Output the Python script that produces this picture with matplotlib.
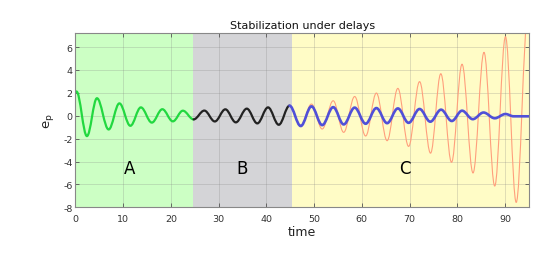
import matplotlib
matplotlib.use("Agg")
import matplotlib.pyplot as plt
from matplotlib.path import Path
from matplotlib.patches import PathPatch

# ---- data (extrema of each trace) ----
green_t = [0.0, 0.2, 2.4, 4.5, 6.95, 9.2, 11.5, 13.7, 16.0, 18.2, 20.4, 22.5, 24.75]
green_y = [2.05, 2.12, -1.78, 1.53, -1.2, 1.08, -0.88, 0.73, -0.6, 0.57, -0.49, 0.44, -0.32]

black_t = [24.75, 27.0, 29.2, 31.4, 33.6, 35.9, 38.1, 40.35, 42.6, 44.85]
black_y = [-0.32, 0.45, -0.5, 0.56, -0.58, 0.62, -0.67, 0.73, -0.79, 0.88]

blue_t = [44.85, 47.2, 49.45, 51.7, 54.0, 56.2, 58.5, 60.8, 63.05, 65.3, 67.55,
          69.8, 72.1, 74.35, 76.6, 78.85, 81.0, 83.25, 85.5, 87.85, 90.1, 91.8, 95.0]
blue_y = [0.88, -0.9, 0.82, -0.82, 0.75, -0.76, 0.71, -0.7, 0.67, -0.65, 0.64,
          -0.62, 0.59, -0.52, 0.53, -0.46, 0.44, -0.3, 0.28, -0.22, 0.15, -0.05, -0.05]

orange_t = [44.85, 47.2, 49.45, 51.7, 54.0, 56.2, 58.5, 60.8, 63.05, 65.3, 67.55,
            69.8, 72.1, 74.4, 76.55, 78.8, 81.0, 83.3, 85.6, 87.85, 90.1, 92.35, 94.75]
orange_y = [0.88, -0.92, 1.02, -1.16, 1.31, -1.45, 1.68, -1.77, 1.98, -2.18, 2.39,
            -2.68, 2.98, -3.27, 3.67, -4.07, 4.5, -5.0, 5.54, -6.14, 6.9, -7.57, 8.5]

phase_edges = [0.0, 24.7, 45.4, 95.0]
phase_labels = ["A", "B", "C"]
phase_label_x = [11.4, 35.0, 69.0]
phase_label_y = -4.55

x_ticks = [0, 10, 20, 30, 40, 50, 60, 70, 80, 90]
y_ticks = [-8, -6, -4, -2, 0, 2, 4, 6]


def wave_path(ts, ys):
    """Smooth path through successive extrema (horizontal tangents), drawn as cubic Beziers."""
    a = 0.3634
    verts = [(ts[0], ys[0])]
    codes = [Path.MOVETO]
    for i in range(len(ts) - 1):
        t0, t1 = ts[i], ts[i + 1]
        y0, y1 = ys[i], ys[i + 1]
        dt = t1 - t0
        verts += [(t0 + a * dt, y0), (t1 - a * dt, y1), (t1, y1)]
        codes += [Path.CURVE4] * 3
    return Path(verts, codes)


fig = plt.figure(figsize=(5.38, 2.55), dpi=100)
ax = fig.add_axes([0.1403, 0.183, 0.983 - 0.1403, 0.8655 - 0.183])

span_colors = ["#ccffc4", "#d4d4d7", "#fffcc6"]
for i in range(3):
    ax.axvspan(phase_edges[i], phase_edges[i + 1], color=span_colors[i], lw=0, zorder=0)

for t, y, c, lw, z in [(orange_t, orange_y, "#ff9f7c", 0.8, 3),
                       (green_t, green_y, "#22d840", 1.6, 4),
                       (black_t, black_y, "#222222", 1.6, 4),
                       (blue_t, blue_y, "#5050d8", 1.9, 5)]:
    ax.add_patch(PathPatch(wave_path(t, y), fill=False, edgecolor=c, lw=lw,
                           capstyle="round", joinstyle="round", zorder=z))

for lab, x in zip(phase_labels, phase_label_x):
    ax.text(x, phase_label_y, lab, fontsize=12, ha="center", va="center", color="black", zorder=6)

ax.set_xlim(0, 95)
ax.set_ylim(-8, 7.2)
ax.set_xticks(x_ticks)
ax.set_yticks(y_ticks)
ax.set_yticklabels([str(v) for v in y_ticks])
ax.grid(True, color="#808080", alpha=0.25, lw=0.7, zorder=1)
ax.set_axisbelow(False)
ax.tick_params(direction="in", length=3, width=0.6, colors="#555555", labelcolor="#333333",
               labelsize=6.8, top=True, right=True)
ax.tick_params(axis="x", pad=4.5)
ax.tick_params(axis="y", pad=2)
for s in ax.spines.values():
    s.set_color("#888888")
    s.set_linewidth(0.8)
    s.set_zorder(7)

ax.set_title("Stabilization under delays", fontsize=8, color="#111111", pad=4)
ax.set_xlabel("time", fontsize=9, color="#222222", labelpad=2)
ax.set_ylabel("$\\mathregular{e_p}$", fontsize=9.5, color="#222222", labelpad=5)

fig.savefig("out.png", dpi=100)
